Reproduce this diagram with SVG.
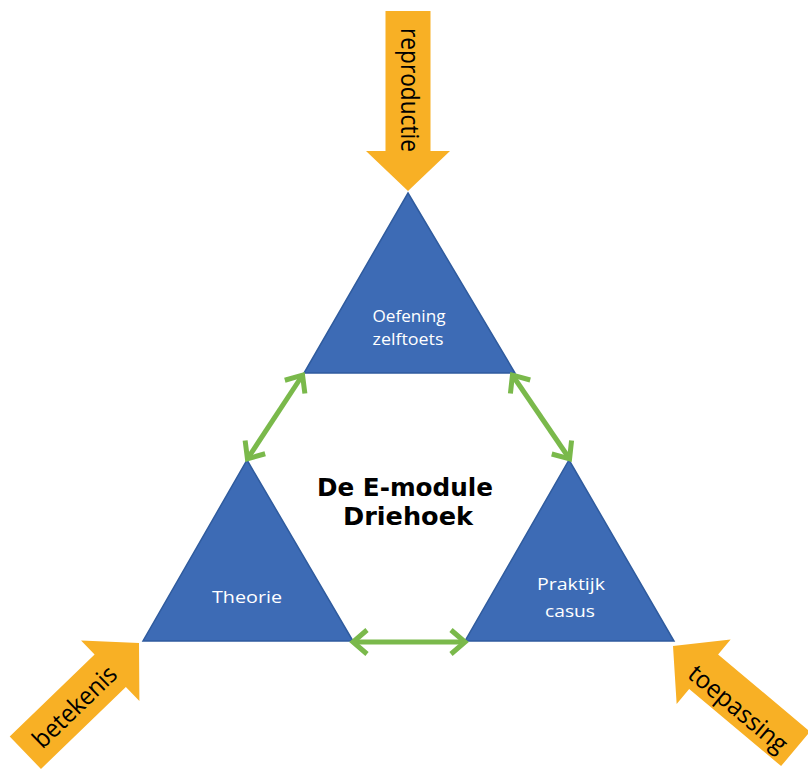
<svg xmlns="http://www.w3.org/2000/svg" width="808" height="771" viewBox="0 0 808 771">
  <defs>
    <style>
      .tri { fill: #3D6BB5; stroke: #2F5B9E; stroke-width: 1.5; stroke-linejoin: miter; }
      .big { fill: #F8B025; }
      .lbl { font-family: "Open Sans", "Noto Sans", sans-serif; font-size: 17px; fill: #FFFFFF; text-anchor: middle; }
      .arrtxt { font-family: "Open Sans", "Noto Sans", sans-serif; font-size: 25px; fill: #000000; text-anchor: middle; }
      .title { font-family: "DejaVu Sans", "Verdana", sans-serif; font-weight: bold; font-size: 25px; fill: #000000; text-anchor: middle; }
      .link { stroke: #7AB94B; stroke-width: 5; fill: none; marker-start: url(#chev); marker-end: url(#chev); }
    </style>
    <marker id="chev" markerUnits="userSpaceOnUse" markerWidth="30" markerHeight="30" viewBox="0 0 30 30" refX="23" refY="15" orient="auto-start-reverse">
      <path d="M10,3 L24,15 L10,27" fill="none" stroke="#7AB94B" stroke-width="5" stroke-linejoin="miter"/>
    </marker>
  </defs>
  <rect width="808" height="771" fill="#FFFFFF"/>

  <g id="arrow-reproductie">
    <path class="big" transform="translate(408,191) rotate(90)" d="M-180,-22.5 H-40 V-42 L0,0 L-40,42 V22.5 H-180 Z"/>
    <text class="arrtxt" transform="translate(409.5,90) rotate(90)" dy="0.33em" textLength="124" lengthAdjust="spacingAndGlyphs">reproductie</text>
  </g>

  <g id="arrow-betekenis">
    <path class="big" transform="translate(139,643) rotate(-44)" d="M-158,-22.5 H-40 V-42 L0,0 L-40,42 V22.5 H-158 Z"/>
    <text class="arrtxt" transform="translate(75,707) rotate(-44)" dy="0.33em" textLength="106" lengthAdjust="spacingAndGlyphs">betekenis</text>
  </g>

  <g id="arrow-toepassing">
    <path class="big" transform="translate(673,646) rotate(-140)" d="M-160,-22.5 H-40 V-42 L0,0 L-40,42 V22.5 H-160 Z"/>
    <text class="arrtxt" transform="translate(738,709) rotate(40)" dy="0.33em" textLength="121" lengthAdjust="spacingAndGlyphs">toepassing</text>
  </g>

  <g id="node-oefening">
    <polygon class="tri" points="408,193 515,373 304,373"/>
    <text class="lbl" x="409" y="322" textLength="73" lengthAdjust="spacingAndGlyphs">Oefening</text>
    <text class="lbl" x="408" y="345" textLength="71" lengthAdjust="spacingAndGlyphs">zelftoets</text>
  </g>

  <g id="node-theorie">
    <polygon class="tri" points="247,460 353,641 143,641"/>
    <text class="lbl" x="247" y="603" textLength="70" lengthAdjust="spacingAndGlyphs">Theorie</text>
  </g>

  <g id="node-praktijk">
    <polygon class="tri" points="569,460 674,641 465,641"/>
    <text class="lbl" x="571" y="590" textLength="68" lengthAdjust="spacingAndGlyphs">Praktijk</text>
    <text class="lbl" x="570" y="617" textLength="50" lengthAdjust="spacingAndGlyphs">casus</text>
  </g>

  <g id="title">
    <text class="title" x="405" y="496" textLength="176" lengthAdjust="spacingAndGlyphs">De E-module</text>
    <text class="title" x="408" y="525" textLength="130" lengthAdjust="spacingAndGlyphs">Driehoek</text>
  </g>

  <g id="connectors">
    <line class="link" x1="302" y1="376" x2="248" y2="458"/>
    <line class="link" x1="513" y1="376" x2="569" y2="458"/>
    <line class="link" x1="354" y1="642" x2="464" y2="642"/>
  </g>
</svg>
